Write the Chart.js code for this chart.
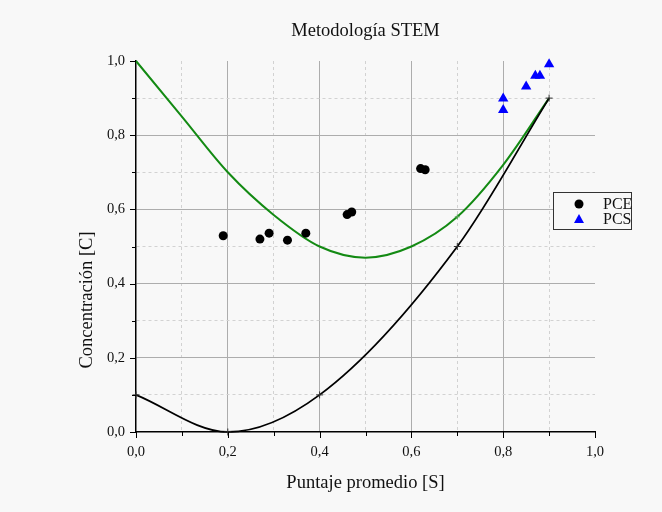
<!DOCTYPE html>
<html>
<head>
<meta charset="utf-8">
<script src="https://cdn.jsdelivr.net/npm/chart.js@4.4.1/dist/chart.umd.min.js"></script>
<style>
  html, body { margin: 0; padding: 0; background: #f8f8f8; }
  #wrap { width: 662px; height: 512px; }
</style>
</head>
<body>
<div id="wrap"><canvas id="chart" width="662" height="512"></canvas></div>
<script>
// values
const tickLabels = ["0,0", "0,2", "0,4", "0,6", "0,8", "1,0"]

const pceX = [0.19, 0.27, 0.29, 0.33, 0.37, 0.46, 0.47, 0.62, 0.63]
const pceY = [0.529, 0.520, 0.536, 0.517, 0.536, 0.586, 0.593, 0.710, 0.707]

const pcsX = [0.80, 0.80, 0.85, 0.87, 0.88, 0.90]
const pcsY = [0.899, 0.868, 0.931, 0.960, 0.960, 0.991]

// black reference curve knots (drawn as + markers)
const blackX = [0.0, 0.2, 0.4, 0.7, 0.9]
const blackY = [0.10, 0.0, 0.10, 0.50, 0.90]

// green curve read every 0.1
const greenX = [0.0, 0.1, 0.2, 0.3, 0.4, 0.5, 0.6, 0.7, 0.8, 0.9]
const greenY = [1.0, 0.85, 0.70, 0.585, 0.50, 0.47, 0.50, 0.58, 0.72, 0.90]

const serif = "'Liberation Serif', 'Times New Roman', serif"
const toPoints = (xs, ys) => xs.map((x, i) => ({ x, y: ys[i] }))
const tenths = v => Math.round(v * 10)
const isMajor = v => tenths(v) % 2 === 0

// tick marks, titles and the boxed legend, drawn on top of the library's scales
const decor = {
  id: "decor",
  afterDraw (chart) {
    const { ctx, chartArea: area, scales: { x, y } } = chart
    ctx.save()
    ctx.strokeStyle = "#000"
    ctx.lineWidth = 1
    for (let i = 0; i <= 10; i++) {
      const v = i / 10
      const len = i % 2 === 0 ? 6 : 4
      const px = Math.round(x.getPixelForValue(v)) + 0.5
      const py = Math.round(y.getPixelForValue(v)) + 0.5
      ctx.beginPath()
      ctx.moveTo(px, area.bottom)
      ctx.lineTo(px, area.bottom + len)
      ctx.moveTo(area.left, py)
      ctx.lineTo(area.left - len, py)
      ctx.stroke()
    }

    ctx.fillStyle = "#111"
    ctx.font = `18.5px ${serif}`
    ctx.textAlign = "center"
    ctx.textBaseline = "middle"
    ctx.fillText("Metodología STEM", (area.left + area.right) / 2, 31)

    ctx.translate(87, 300)
    ctx.rotate(-Math.PI / 2)
    ctx.fillText("Concentración [C]", 0, 0)
    ctx.restore()

    // legend
    ctx.save()
    const bx = 553, by = 192, bw = 78, bh = 37
    ctx.fillStyle = "#f8f8f8"
    ctx.fillRect(bx, by, bw, bh)
    ctx.strokeStyle = "#333"
    ctx.lineWidth = 1
    ctx.strokeRect(bx + 0.5, by + 0.5, bw, bh)

    ctx.fillStyle = "#000"
    ctx.beginPath()
    ctx.arc(579, 204, 4.5, 0, Math.PI * 2)
    ctx.fill()
    ctx.fillStyle = "#0000ff"
    ctx.beginPath()
    ctx.moveTo(579, 214)
    ctx.lineTo(584, 223)
    ctx.lineTo(574, 223)
    ctx.closePath()
    ctx.fill()

    ctx.fillStyle = "#111"
    ctx.font = `16px ${serif}`
    ctx.textAlign = "left"
    ctx.textBaseline = "middle"
    ctx.fillText("PCE", 603, 205)
    ctx.fillText("PCS", 603, 220)
    ctx.restore()
  }
}

const axis = (extra) => Object.assign({
  type: "linear",
  min: 0,
  max: 1,
  border: { display: true, color: "#000", width: 1.5, dash: c => (c.tick && !isMajor(c.tick.value)) ? [3, 3] : [] },
  grid: {
    drawTicks: false,
    lineWidth: 1,
    color: c => {
      if (!c.tick) return "#aaa"
      const i = tenths(c.tick.value)
      if (i === 0 || i === 10) return "rgba(0,0,0,0)"
      return i % 2 === 0 ? "#adadad" : "#d2d2d2"
    }
  },
  ticks: {
    stepSize: 0.1,
    autoSkip: false,
    maxRotation: 0,
    padding: 11,
    color: "#111",
    font: { family: serif, size: 14.5 },
    callback: v => isMajor(v) ? tickLabels[tenths(v) / 2] : ""
  }
}, extra)

new Chart(document.getElementById("chart").getContext("2d"), {
  type: "scatter",
  data: {
    datasets: [
      {
        label: "PCE",
        data: toPoints(pceX, pceY),
        pointStyle: "circle",
        pointRadius: 4.5,
        backgroundColor: "#000",
        borderColor: "#000",
        borderWidth: 0,
        order: 1
      },
      {
        label: "PCS",
        data: toPoints(pcsX, pcsY),
        pointStyle: "triangle",
        pointRadius: 6,
        backgroundColor: "#0000ff",
        borderColor: "#0000ff",
        borderWidth: 0,
        order: 2
      },
      {
        label: "curva",
        data: toPoints(blackX, blackY),
        showLine: true,
        cubicInterpolationMode: "monotone",
        borderColor: "#000",
        borderWidth: 1.8,
        pointStyle: "cross",
        pointRadius: 3.5,
        pointBorderWidth: 1,
        pointBorderColor: "#333",
        order: 3
      },
      {
        label: "ajuste",
        data: toPoints(greenX, greenY),
        showLine: true,
        cubicInterpolationMode: "monotone",
        borderColor: "#138a13",
        borderWidth: 2,
        pointStyle: "cross",
        pointRadius: c => greenX[c.dataIndex] === 0.7 ? 2.5 : 0,
        pointBorderWidth: 1,
        pointBorderColor: "#5aa55a",
        order: 4
      }
    ]
  },
  options: {
    responsive: false,
    animation: false,
    clip: false,
    layout: { padding: { left: 62, right: 67, top: 61, bottom: 0 } },
    plugins: {
      legend: { display: false },
      tooltip: { enabled: false },
      title: { display: false }
    },
    scales: {
      x: axis({
        position: "bottom",
        afterFit: s => { s.height = 80 },
        title: {
          display: true,
          text: "Puntaje promedio [S]",
          color: "#111",
          font: { family: serif, size: 18.5 },
          padding: { top: 4, bottom: 18 }
        }
      }),
      y: axis({
        position: "left",
        afterFit: s => { s.width = 74 }
      })
    }
  },
  plugins: [decor]
})
</script>
</body>
</html>
